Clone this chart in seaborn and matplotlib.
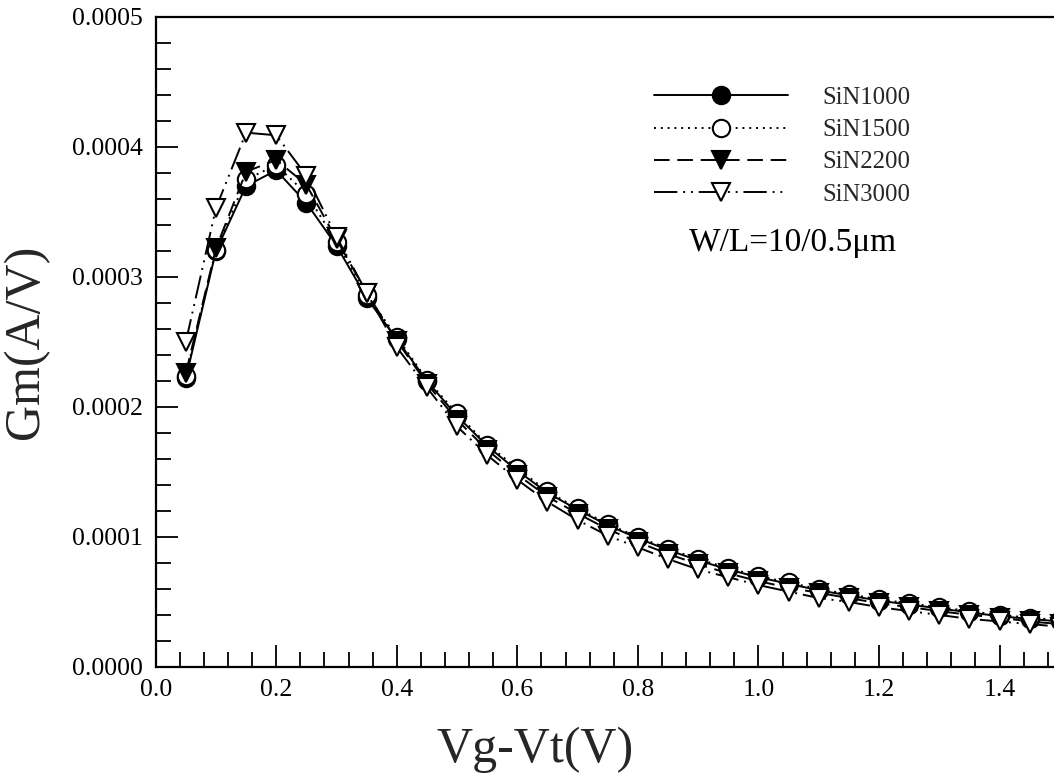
import matplotlib
matplotlib.use("Agg")
import matplotlib.pyplot as plt
from matplotlib.ticker import MultipleLocator, FormatStrFormatter
import seaborn as sns
import pandas as pd

# ---- data (Gm in units of 1e-4 A/V) ----
vg_vt = [0.05, 0.10, 0.15, 0.20, 0.25, 0.30, 0.35, 0.40, 0.45, 0.50,
         0.55, 0.60, 0.65, 0.70, 0.75, 0.80, 0.85, 0.90, 0.95, 1.00,
         1.05, 1.10, 1.15, 1.20, 1.25, 1.30, 1.35, 1.40, 1.45, 1.50]
sin1000 = [2.22, 3.20, 3.70, 3.82, 3.57, 3.24, 2.84, 2.52, 2.20, 1.93,
           1.70, 1.51, 1.34, 1.21, 1.09, 0.99, 0.90, 0.82, 0.75, 0.69,
           0.64, 0.59, 0.55, 0.51, 0.48, 0.45, 0.42, 0.39, 0.37, 0.35]
sin1500 = [2.24, 3.21, 3.75, 3.86, 3.64, 3.27, 2.86, 2.54, 2.21, 1.95,
           1.71, 1.53, 1.35, 1.22, 1.10, 1.00, 0.91, 0.83, 0.76, 0.70,
           0.65, 0.60, 0.56, 0.52, 0.49, 0.46, 0.43, 0.40, 0.38, 0.36]
sin2200 = [2.26, 3.22, 3.81, 3.90, 3.71, 3.29, 2.88, 2.51, 2.18, 1.90,
           1.67, 1.48, 1.31, 1.18, 1.06, 0.96, 0.87, 0.79, 0.72, 0.66,
           0.61, 0.57, 0.53, 0.49, 0.46, 0.43, 0.40, 0.38, 0.35, 0.33]
sin3000 = [2.50, 3.53, 4.11, 4.09, 3.78, 3.31, 2.88, 2.46, 2.15, 1.85,
           1.63, 1.44, 1.27, 1.13, 1.01, 0.92, 0.83, 0.75, 0.69, 0.63,
           0.58, 0.53, 0.50, 0.46, 0.43, 0.40, 0.37, 0.35, 0.33, 0.31]
series_names = ["SiN1000", "SiN1500", "SiN2200", "SiN3000"]
scale = 1e-4

sns.set_theme(style="ticks")
plt.rcParams['font.family'] = ['Liberation Serif', 'DejaVu Serif']
plt.rcParams['mathtext.fontset'] = 'stix'

fig = plt.figure(figsize=(10.54, 7.82), dpi=100)
ax = fig.add_axes([0.1477, 0.1471, 0.8578, 0.8312])

styles = {
    "SiN1000": dict(linestyle='-', marker='o', mfc='black'),
    "SiN1500": dict(linestyle=(0, (1, 2.5)), marker='o', mfc='white'),
    "SiN2200": dict(linestyle=(0, (8, 4)), marker='v', mfc='black'),
    "SiN3000": dict(linestyle=(0, (12, 3, 1, 3, 1, 3)), marker='v', mfc='white'),
}
values = [sin1000, sin1500, sin2200, sin3000]
for name, vals in zip(series_names, values):
    df = pd.DataFrame({"x": vg_vt, "y": [v * scale for v in vals]})
    st = styles[name]
    sns.lineplot(data=df, x="x", y="y", ax=ax, color='black', lw=1.4,
                 linestyle=st['linestyle'], marker=st['marker'],
                 markersize=12.5, markerfacecolor=st['mfc'],
                 markeredgecolor='black', markeredgewidth=1.5,
                 label=name, clip_on=False)

ax.set_xlim(0.0, 1.5)
ax.set_ylim(0.0, 0.0005)
ax.xaxis.set_major_locator(MultipleLocator(0.2))
ax.xaxis.set_minor_locator(MultipleLocator(0.04))
ax.yaxis.set_major_locator(MultipleLocator(0.0001))
ax.yaxis.set_minor_locator(MultipleLocator(0.00002))
ax.xaxis.set_major_formatter(FormatStrFormatter('%.1f'))
ax.yaxis.set_major_formatter(FormatStrFormatter('%.4f'))
ax.tick_params(which='major', direction='in', length=16, width=1.3,
               labelsize=18.5, colors='black', pad=9)
ax.tick_params(which='minor', direction='in', length=10.5, width=1.3, colors='black')
ax.tick_params(axis='x', which='both', top=False)
ax.tick_params(axis='y', which='both', right=False)
for s in ax.spines.values():
    s.set_linewidth(1.6)
    s.set_color('black')

ax.set_xlabel("Vg-Vt(V)", fontsize=36)
ax.set_ylabel("Gm(A/V)", fontsize=36)
ax.xaxis.set_label_coords(0.42, -0.092)
ax.yaxis.set_label_coords(-0.118, 0.5)

leg = ax.legend(loc='upper left', bbox_to_anchor=(0.6205, 0.889),
                bbox_transform=fig.transFigure, frameon=False,
                fontsize=17.8, handlelength=5.4, handletextpad=1.4,
                labelspacing=0.4, borderaxespad=0, borderpad=0, numpoints=1)

ax.text(0.752, 0.689, "W/L=10/0.5μm", transform=fig.transFigure,
        fontsize=24, ha='center', va='center', color='black')

fig.savefig("out.png", dpi=100)
